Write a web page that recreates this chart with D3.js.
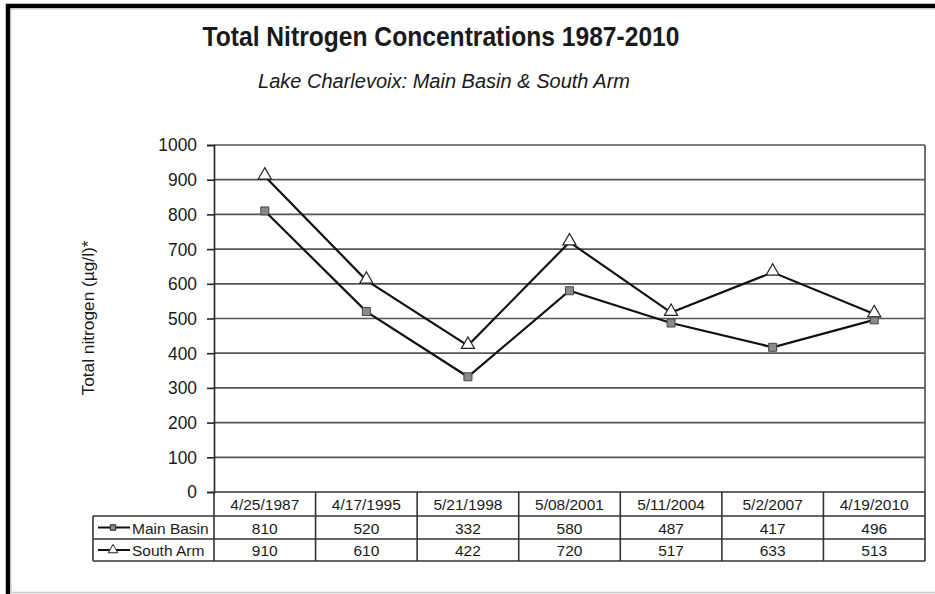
<!DOCTYPE html>
<html>
<head>
<meta charset="utf-8">
<script src="https://cdn.jsdelivr.net/npm/d3@7"></script>
<style>
  body { margin: 0; background: #fff; }
  svg text { font-family: "Liberation Sans", Arial, sans-serif; fill: #1a1a1a; }
</style>
</head>
<body>
<svg class="target"></svg>
<script>
const dates = ["4/25/1987", "4/17/1995", "5/21/1998", "5/08/2001", "5/11/2004", "5/2/2007", "4/19/2010"];
const mainBasin = [810, 520, 332, 580, 487, 417, 496];
const southArm = [910, 610, 422, 720, 517, 633, 513];
const yTicks = [0, 100, 200, 300, 400, 500, 600, 700, 800, 900, 1000];

document.addEventListener("DOMContentLoaded", function() {
    drawChart();
});

function drawChart() {
    const width = 935;
    const height = 594;
    const svg = d3.select(".target")
        .attr("width", width)
        .attr("height", height);

    // frame of the picture
    svg.append("rect").attr("x", 0).attr("y", 0).attr("width", width).attr("height", height).attr("fill", "#fff");
    svg.append("path")
        .attr("d", "M8,594 V6 H935")
        .attr("fill", "none")
        .attr("stroke", "#000")
        .attr("stroke-width", 4.5);
    svg.append("path")
        .attr("d", "M11,594 V9 H935")
        .attr("fill", "none")
        .attr("stroke", "#ccc")
        .attr("stroke-width", 1);
    svg.append("line")
        .attr("x1", 10).attr("x2", 935).attr("y1", 592.5).attr("y2", 592.5)
        .attr("stroke", "#c8c8c8").attr("stroke-width", 1.5);

    const left = 214, right = 925, top = 145, bottom = 492;

    const x = d3.scaleBand().domain(dates).range([left, right]);
    const y = d3.scaleLinear().domain([0, 1000]).range([bottom, top]);

    // titles
    svg.append("text")
        .attr("x", 441).attr("y", 46)
        .attr("text-anchor", "middle")
        .attr("font-size", 28).attr("font-weight", "bold")
        .attr("textLength", 477).attr("lengthAdjust", "spacingAndGlyphs")
        .text("Total Nitrogen Concentrations 1987-2010");
    svg.append("text")
        .attr("x", 444).attr("y", 88)
        .attr("text-anchor", "middle")
        .attr("font-size", 20).attr("font-style", "italic")
        .attr("textLength", 372).attr("lengthAdjust", "spacingAndGlyphs")
        .text("Lake Charlevoix: Main Basin & South Arm");

    // y axis label
    svg.append("text")
        .attr("transform", "translate(94,318) rotate(-90)")
        .attr("text-anchor", "middle")
        .attr("font-size", 17)
        .attr("textLength", 155).attr("lengthAdjust", "spacingAndGlyphs")
        .text("Total nitrogen (\u00b5g/l)*");

    // gridlines
    svg.append("g")
        .selectAll("line")
        .data(yTicks.filter(d => d > 0))
        .join("line")
        .attr("x1", left).attr("x2", right)
        .attr("y1", d => y(d)).attr("y2", d => y(d))
        .attr("stroke", "#555").attr("stroke-width", 1.7);
    svg.append("line")
        .attr("x1", right).attr("x2", right).attr("y1", top).attr("y2", bottom)
        .attr("stroke", "#555").attr("stroke-width", 1.7);

    // y axis
    const yAxis = svg.append("g")
        .attr("transform", `translate(${left},0)`)
        .call(d3.axisLeft(y).tickValues(yTicks).tickFormat(d3.format("d")).tickSize(7).tickPadding(10));
    yAxis.select(".domain").attr("stroke", "#222").attr("stroke-width", 1.6);
    yAxis.selectAll(".tick line").attr("stroke", "#222").attr("stroke-width", 1.6);
    yAxis.selectAll(".tick text")
        .attr("font-size", 18.5)
        .attr("font-family", "Liberation Sans, Arial, sans-serif")
        .attr("fill", "#1a1a1a")
        .attr("textLength", 0)
        .each(function(d) {
            const w = this.getComputedTextLength();
            d3.select(this).attr("textLength", w * 0.94).attr("lengthAdjust", "spacingAndGlyphs");
        });

    const cx = d => x(d) + x.bandwidth() / 2;

    const line = d3.line()
        .x((d, i) => cx(dates[i]))
        .y(d => y(d));

    svg.append("path").datum(mainBasin)
        .attr("d", line).attr("fill", "none")
        .attr("stroke", "#111").attr("stroke-width", 2.2);
    svg.append("path").datum(southArm)
        .attr("d", line).attr("fill", "none")
        .attr("stroke", "#111").attr("stroke-width", 2.2);

    const squareSym = d3.symbol().type(d3.symbolSquare).size(64);
    const triSym = d3.symbol().type(d3.symbolTriangle).size(75);

    svg.append("g").selectAll("path")
        .data(mainBasin)
        .join("path")
        .attr("d", squareSym)
        .attr("transform", (d, i) => `translate(${cx(dates[i])},${y(d)})`)
        .attr("fill", "#8a8a8a").attr("stroke", "#444").attr("stroke-width", 1);
    svg.append("g").selectAll("path")
        .data(southArm)
        .join("path")
        .attr("d", triSym)
        .attr("transform", (d, i) => `translate(${cx(dates[i])},${y(d) - 1})`)
        .attr("fill", "#fff").attr("stroke", "#222").attr("stroke-width", 1.2);

    // data table
    const legLeft = 93;
    const rowY = [bottom, 516, 539, 561];
    const table = svg.append("g");
    const tStroke = "#333";

    // horizontal rules
    table.append("line").attr("x1", left).attr("x2", right).attr("y1", rowY[0]).attr("y2", rowY[0])
        .attr("stroke", tStroke).attr("stroke-width", 1.6);
    [rowY[1], rowY[2], rowY[3]].forEach(function(ry) {
        table.append("line").attr("x1", legLeft).attr("x2", right).attr("y1", ry).attr("y2", ry)
            .attr("stroke", tStroke).attr("stroke-width", 1.6);
    });
    // vertical rules
    table.append("line").attr("x1", legLeft).attr("x2", legLeft).attr("y1", rowY[1]).attr("y2", rowY[3])
        .attr("stroke", tStroke).attr("stroke-width", 1.6);
    table.selectAll(".vsep")
        .data(dates)
        .join("line")
        .attr("x1", d => x(d)).attr("x2", d => x(d))
        .attr("y1", rowY[0]).attr("y2", rowY[3])
        .attr("stroke", tStroke).attr("stroke-width", 1.6);
    table.append("line").attr("x1", right).attr("x2", right).attr("y1", rowY[0]).attr("y2", rowY[3])
        .attr("stroke", tStroke).attr("stroke-width", 1.6);

    // header + values
    const fs = 15.5;
    table.selectAll(".hdr")
        .data(dates)
        .join("text")
        .attr("x", d => cx(d)).attr("y", 510)
        .attr("text-anchor", "middle").attr("font-size", fs)
        .text(d => d);
    table.selectAll(".mb")
        .data(mainBasin)
        .join("text")
        .attr("x", (d, i) => cx(dates[i])).attr("y", 533.5)
        .attr("text-anchor", "middle").attr("font-size", fs)
        .text(d => d);
    table.selectAll(".sa")
        .data(southArm)
        .join("text")
        .attr("x", (d, i) => cx(dates[i])).attr("y", 556)
        .attr("text-anchor", "middle").attr("font-size", fs)
        .text(d => d);

    // legend keys inside table
    const keys = [
        { name: "Main Basin", sym: d3.symbol().type(d3.symbolSquare).size(30), fill: "#8a8a8a", cy: 527.5 },
        { name: "South Arm", sym: d3.symbol().type(d3.symbolTriangle).size(40), fill: "#fff", cy: 550 }
    ];
    keys.forEach(function(k) {
        table.append("line").attr("x1", 98).attr("x2", 130).attr("y1", k.cy).attr("y2", k.cy)
            .attr("stroke", "#111").attr("stroke-width", 2);
        table.append("path").attr("d", k.sym)
            .attr("transform", `translate(113,${k.cy})`)
            .attr("fill", k.fill).attr("stroke", "#222").attr("stroke-width", 1);
        table.append("text").attr("x", 132).attr("y", k.cy + 6)
            .attr("font-size", fs)
            .text(k.name);
    });
}
</script>
</body>
</html>
